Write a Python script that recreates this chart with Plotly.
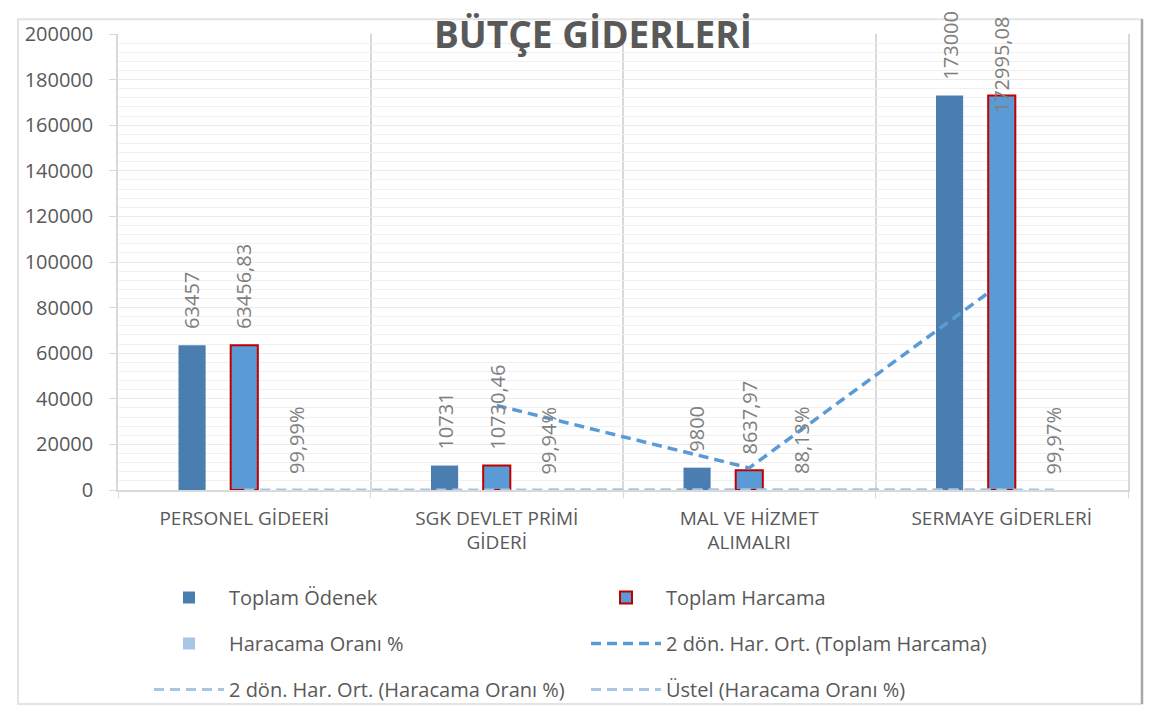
import plotly.graph_objects as go

# ---------------- data ----------------
categories = ["PERSONEL GİDEERİ", "SGK DEVLET PRİMİ<br>GİDERİ", "MAL VE HİZMET<br>ALIMALRI", "SERMAYE GİDERLERİ"]
toplam_odenek = [63457, 10731, 9800, 173000]
toplam_harcama = [63456.83, 10730.46, 8637.97, 172995.08]
harcama_orani = [0.9999, 0.9994, 0.8813, 0.9997]
ma_harcama = [None, 37093.65, 9684.22, 90816.53]
ma_orani = [None, 0.9997, 0.9404, 0.9405]
ustel_orani = [0.975, 0.968, 0.962, 0.955]

# ---------------- style ----------------
C_ODENEK = "#4A7EB0"
C_HARCAMA = "#5B9BD5"
C_HARC_LINE = "#C00000"
C_ORAN = "#AAC4E6"
C_TEXT = "#595959"
C_LABEL = "#7F7F7F"
FONT = "Open Sans"
BARGAP = 0.38
BARGROUPGAP = 0.48
OFF = 8  # page body margin of the html page
W, H = 1154 - OFF, 714 - OFF
ML, MR, MT, MB = 118 - OFF, 26, 30 - OFF, 224
PW, PH = W - ML - MR, H - MT - MB

xs = list(range(len(categories)))
slot = (1 - BARGAP) / 3


def fmt_num(v):
    s = ("%.2f" % v).rstrip("0").rstrip(".") if v != int(v) else str(int(v))
    return s.replace(".", ",")


def fmt_pct(v):
    return ("%.2f%%" % (v * 100)).replace(".", ",")


def px_x(p):  # screen pixel -> paper x
    return (p - OFF - ML) / PW


def px_y(p):  # screen pixel -> paper y
    return (H - MB - (p - OFF)) / PH


fig = go.Figure()
fig.add_trace(go.Bar(x=xs, y=toplam_odenek, name="Toplam Ödenek", legendgroup="g1",
                     marker=dict(color=C_ODENEK, line=dict(width=0))))
fig.add_trace(go.Bar(x=xs, y=toplam_harcama, name="Toplam Harcama", legendgroup="g2",
                     marker=dict(color=C_HARCAMA, line=dict(color=C_HARC_LINE, width=2))))
fig.add_trace(go.Bar(x=xs, y=harcama_orani, name="Haracama Oranı %", legendgroup="g3",
                     marker=dict(color=C_ORAN, line=dict(width=0))))
fig.add_trace(go.Scatter(x=xs, y=ma_harcama, name="2 dön. Har. Ort. (Toplam Harcama)", legendgroup="g4",
                         mode="lines", line=dict(color=C_HARCAMA, width=3.5, dash="10px,6px")))
fig.add_trace(go.Scatter(x=[x + slot for x in xs], y=ma_orani, name="2 dön. Har. Ort. (Haracama Oranı %)",
                         legendgroup="g5",
                         mode="lines", line=dict(color=C_ORAN, width=3, dash="10px,6px")))
fig.add_trace(go.Scatter(x=xs, y=ustel_orani, name="Üstel (Haracama Oranı %)", legendgroup="g6",
                         mode="lines", line=dict(color=C_ORAN, width=3, dash="10px,6px")))

# data labels (rotated, above bars)
annotations = []
series = [(toplam_odenek, -slot, fmt_num), (toplam_harcama, 0, fmt_num), (harcama_orani, slot, fmt_pct)]
for vals, off, f in series:
    for x, v in zip(xs, vals):
        ann = dict(x=x + off, text=f(v), textangle=-90, showarrow=False,
                   font=dict(family=FONT, size=20, color=C_LABEL), xanchor="center")
        if v > 172000 and f is fmt_num and off == 0:
            ann.update(yref="paper", y=1, yanchor="top", yshift=20)
        else:
            ann.update(y=v, yanchor="bottom", yshift=14)
        annotations.append(ann)

border = "#E3E3E3"
shapes = [
    dict(type="rect", xref="paper", yref="paper", x0=px_x(18), x1=px_x(1142), y0=px_y(706), y1=px_y(15),
         line=dict(color=border, width=2), layer="below"),
    dict(type="line", xref="paper", yref="paper", x0=px_x(1142), x1=px_x(1142), y0=px_y(706), y1=px_y(15),
         line=dict(color="#A6A6A6", width=2.5)),
]

fig.update_layout(
    width=W, height=H,
    paper_bgcolor="white", plot_bgcolor="white",
    margin=dict(l=ML, r=MR, t=MT, b=MB),
    barmode="group", bargap=BARGAP, bargroupgap=BARGROUPGAP,
    font=dict(family=FONT, color=C_TEXT),
    title=dict(text="<b>BÜTÇE GİDERLERİ</b>", x=(593 - OFF) / W, y=1 - (35 - OFF) / H,
               xref="container", yref="container",
               xanchor="center", yanchor="middle", font=dict(family=FONT, size=37, color=C_TEXT)),
    annotations=annotations,
    shapes=shapes,
    legend=dict(orientation="h", x=px_x(149), y=1 - (578 - OFF) / H, yref="container",
                xanchor="left", yanchor="top",
                traceorder="grouped", tracegroupgap=17,
                entrywidth=352, entrywidthmode="pixels", itemwidth=70,
                font=dict(family=FONT, size=20, color=C_TEXT), bgcolor="rgba(0,0,0,0)"),
)

fig.update_xaxes(range=[-0.5, 3.5], tickmode="array", tickvals=xs, ticktext=categories,
                 showgrid=False, ticks="", zeroline=False,
                 showline=True, linecolor="#D9D9D9", linewidth=1.5,
                 tickfont=dict(family=FONT, size=19, color=C_TEXT), ticklabelstandoff=10,
                 minor=dict(tickmode="linear", tick0=-0.5, dtick=1, showgrid=True, gridcolor="#D9D9D9",
                            gridwidth=1.5, ticks="outside", ticklen=6, tickcolor="#D9D9D9"))
fig.update_yaxes(range=[0, 200000], dtick=20000, tickformat="d",
                 showgrid=True, gridcolor="#EBEBEB", gridwidth=1, zeroline=False,
                 showline=True, linecolor="#D9D9D9", linewidth=1.5, mirror=True,
                 ticks="outside", ticklen=7, tickcolor="#D9D9D9", ticklabelstandoff=12,
                 tickfont=dict(family=FONT, size=20, color=C_TEXT),
                 minor=dict(dtick=4000, showgrid=True, gridcolor="#F0F0F0", gridwidth=1))

fig.write_html("out.html")
